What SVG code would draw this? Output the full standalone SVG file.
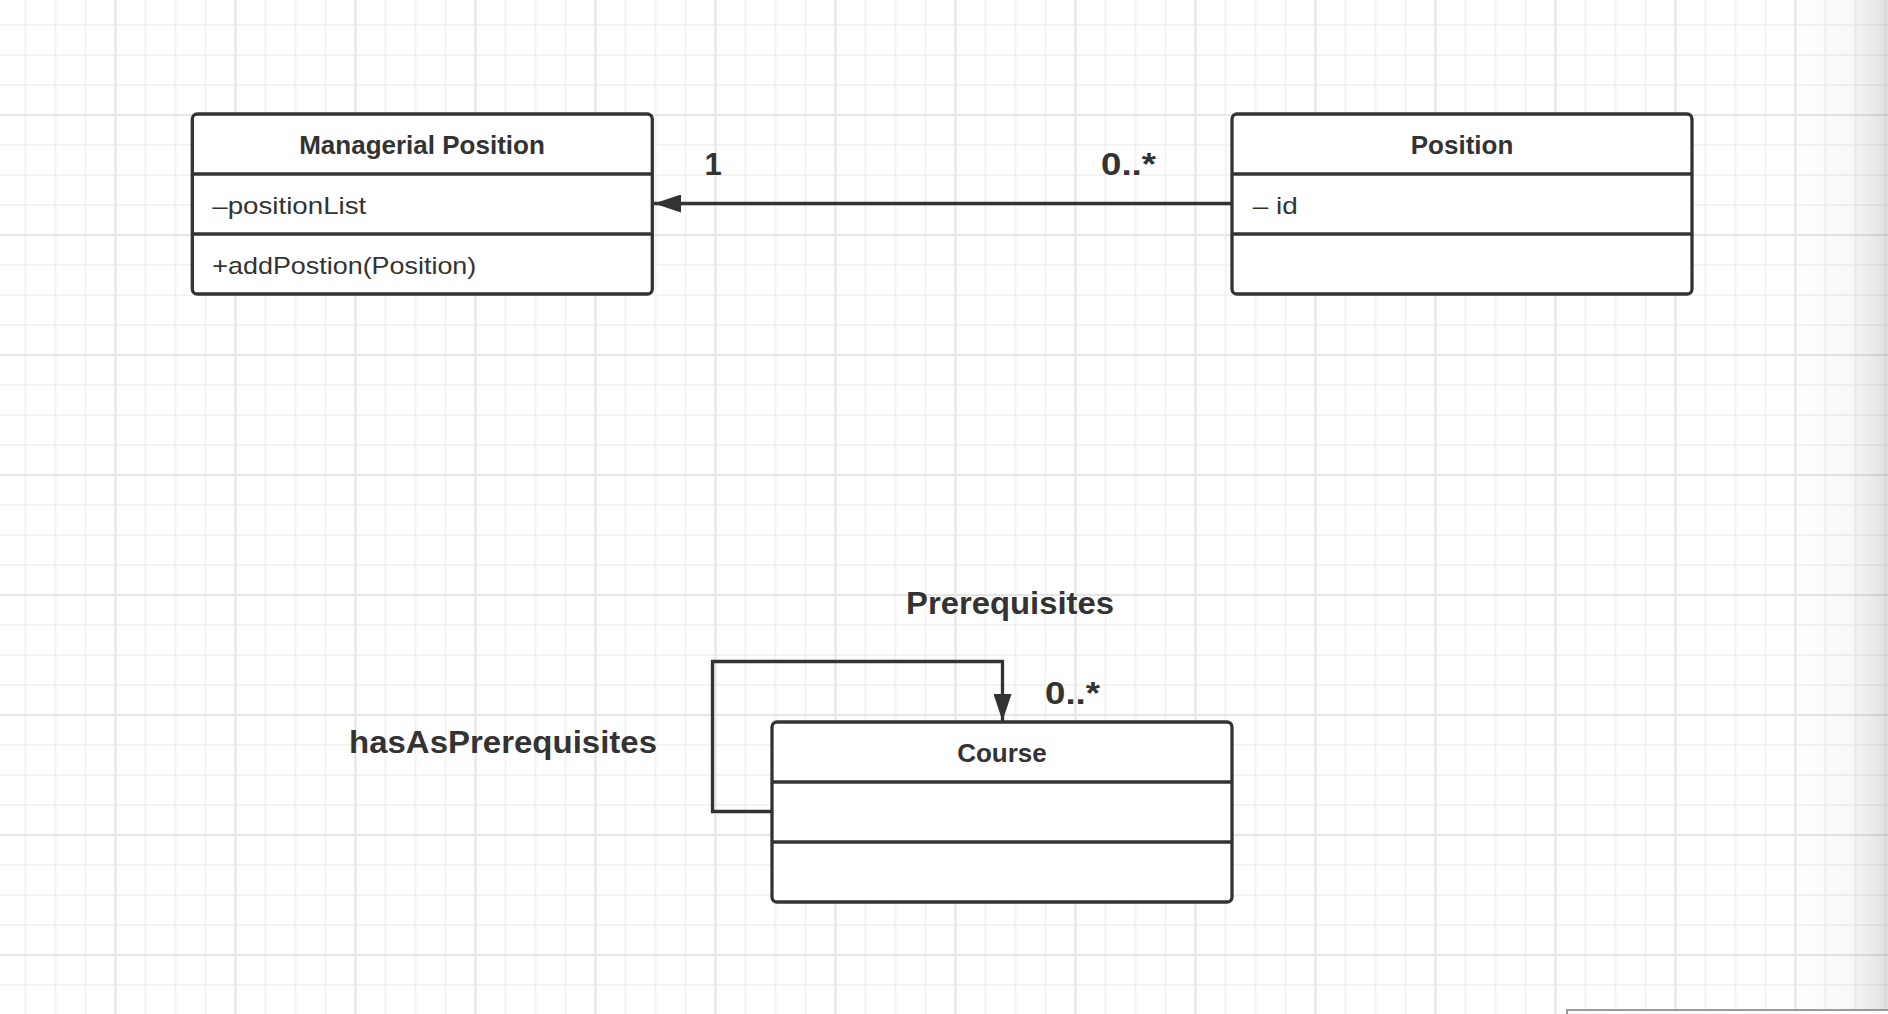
<svg xmlns="http://www.w3.org/2000/svg" width="1888" height="1014" viewBox="0 0 1888 1014">
  <defs>
    <pattern id="gridMinor" patternUnits="userSpaceOnUse" x="10.5" y="10" width="30" height="30">
      <path d="M15,0 V30 M0,15 H30" stroke="#f0f0f0" stroke-width="1.5" fill="none"/>
    </pattern>
    <pattern id="gridMajor" patternUnits="userSpaceOnUse" x="55.5" y="55" width="120" height="120">
      <path d="M60,0 V120 M0,60 H120" stroke="#e6e6e6" stroke-width="2" fill="none"/>
    </pattern>
    <linearGradient id="edgeShade" x1="0" y1="0" x2="1" y2="0">
      <stop offset="0" stop-color="#000" stop-opacity="0"/>
      <stop offset="0.6" stop-color="#000" stop-opacity="0.03"/>
      <stop offset="1" stop-color="#000" stop-opacity="0.12"/>
    </linearGradient>
    <marker id="arrowFilled" markerUnits="userSpaceOnUse" markerWidth="28" markerHeight="18" refX="27" refY="9" orient="auto">
      <path d="M0,0 L27,9 L0,18 Z" fill="#333"/>
    </marker>
    <style>
      .box { fill: #fff; stroke: #333; stroke-width: 3.3; }
      .div { stroke: #333; stroke-width: 3.3; }
      .conn { fill: none; stroke: #333; stroke-width: 3.3; }
      .title { font-family: "Liberation Sans", Arial, sans-serif; font-size: 26px; font-weight: bold; fill: #333; text-anchor: middle; }
      .attr { font-family: "Liberation Sans", Arial, sans-serif; font-size: 24px; fill: #333; }
      .lbl { font-family: "Liberation Sans", Arial, sans-serif; font-size: 31px; font-weight: bold; fill: #333; }
    </style>
  </defs>

  <!-- background grid -->
  <rect x="0" y="0" width="1888" height="1014" fill="#ffffff"/>
  <rect x="0" y="0" width="1888" height="1014" fill="url(#gridMinor)"/>
  <rect x="0" y="0" width="1888" height="1014" fill="url(#gridMajor)"/>
  <rect x="1795" y="0" width="93" height="1014" fill="url(#edgeShade)"/>
  <rect x="1567" y="1010" width="330" height="20" fill="#ffffff" stroke="#9a9a9a" stroke-width="2"/>

  <!-- connectors -->
  <g id="connectors">
    <line class="conn" x1="1232" y1="203.5" x2="654" y2="203.5" marker-end="url(#arrowFilled)"/>
    <path class="conn" d="M772,811.5 H712.5 V661.5 H1002.5 V721" marker-end="url(#arrowFilled)"/>
    <text class="lbl" x="713" y="175" text-anchor="middle" font-size="32">1</text>
    <text class="lbl" x="1101" y="175" textLength="55" lengthAdjust="spacingAndGlyphs">0..*</text>
    <text class="lbl" x="906" y="614.3" textLength="208" lengthAdjust="spacingAndGlyphs">Prerequisites</text>
    <text class="lbl" x="1045" y="704" textLength="55" lengthAdjust="spacingAndGlyphs">0..*</text>
    <text class="lbl" x="349" y="753.3" textLength="308" lengthAdjust="spacingAndGlyphs">hasAsPrerequisites</text>
  </g>

  <!-- Managerial Position -->
  <g id="managerial-position">
    <rect class="box" x="192.3" y="114" width="460" height="180" rx="5"/>
    <line class="div" x1="192.3" y1="174" x2="652.3" y2="174"/>
    <line class="div" x1="192.3" y1="234" x2="652.3" y2="234"/>
    <text class="title" x="422" y="154">Managerial Position</text>
    <text class="attr" x="212.3" y="214.3" textLength="154" lengthAdjust="spacingAndGlyphs">–positionList</text>
    <text class="attr" x="212.3" y="274.3" textLength="264" lengthAdjust="spacingAndGlyphs">+addPostion(Position)</text>
  </g>

  <!-- Position -->
  <g id="position">
    <rect class="box" x="1232" y="114" width="460" height="180" rx="5"/>
    <line class="div" x1="1232" y1="174" x2="1692" y2="174"/>
    <line class="div" x1="1232" y1="234" x2="1692" y2="234"/>
    <text class="title" x="1462" y="154">Position</text>
    <text class="attr" x="1252.7" y="214" textLength="45" lengthAdjust="spacingAndGlyphs">– id</text>
  </g>

  <!-- Course -->
  <g id="course">
    <rect class="box" x="772" y="722" width="460" height="180" rx="5"/>
    <line class="div" x1="772" y1="782" x2="1232" y2="782"/>
    <line class="div" x1="772" y1="842" x2="1232" y2="842"/>
    <text class="title" x="1002" y="762.3">Course</text>
  </g>
</svg>
